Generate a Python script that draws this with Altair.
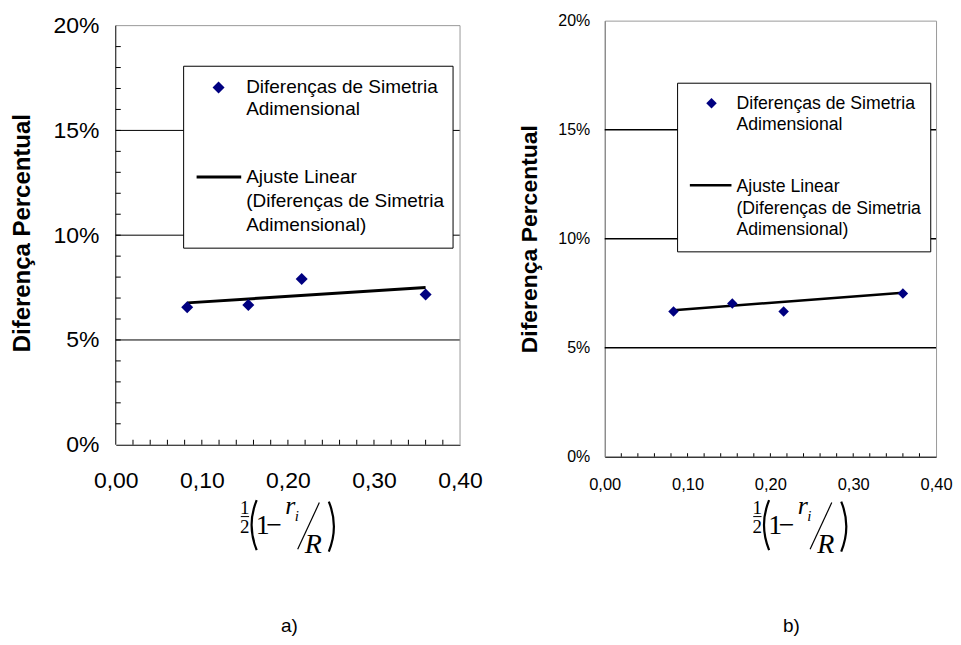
import altair as alt
import pandas as pd

SANS = "Liberation Sans, Arial, sans-serif"
SERIF = "Liberation Serif, Times New Roman, serif"

# ---------------- data ----------------
x_vals = [0.083, 0.154, 0.216, 0.360]
diff_a = [0.0656, 0.0667, 0.0791, 0.0717]
diff_b = [0.0666, 0.0703, 0.0666, 0.0749]
fit_x = [0.083, 0.360]
fit_a = [0.0677, 0.0750]
fit_b = [0.0672, 0.0752]

y_ticks = [0.0, 0.05, 0.10, 0.15, 0.20]
y_grid = [0.05, 0.10, 0.15]
y_minor = [0.01, 0.02, 0.03, 0.04, 0.05, 0.06, 0.07, 0.08, 0.09, 0.10,
           0.11, 0.12, 0.13, 0.14, 0.15, 0.16, 0.17, 0.18, 0.19]
x_ticks = [0.0, 0.1, 0.2, 0.3, 0.4]
x_minor = [0.02, 0.04, 0.06, 0.08, 0.10, 0.12, 0.14, 0.16, 0.18, 0.20,
           0.22, 0.24, 0.26, 0.28, 0.30, 0.32, 0.34, 0.36, 0.38]
x_max = 0.4
y_max = 0.2

y_title = "Diferença Percentual"
legend_pts = ["Diferenças de Simetria", "Adimensional"]
legend_fit = ["Ajuste Linear", "(Diferenças de Simetria", "Adimensional)"]
panel_names = ["a)", "b)"]

ONE = pd.DataFrame({"k": [0]})
GRAY = "#9a9a9a"


def vtext(txt, x, y, size, font=SANS, style="normal", align="left", weight="normal"):
    return alt.Chart(ONE).mark_text(
        text=txt, align=align, baseline="alphabetic", fontSize=size, font=font,
        fontStyle=style, fontWeight=weight, color="black"
    ).encode(x=alt.value(x), y=alt.value(y))


def paren(cx, cy, left):
    # thin tall bracket drawn as a circular arc
    r = 67.5
    if left:
        t0, t1 = 4.325, 5.099
    else:
        t0, t1 = 1.184, 1.958
    return alt.Chart(ONE).mark_arc(radius=r, radius2=r - 2.2, theta=t0, theta2=t1,
                                   color="black").encode(x=alt.value(cx), y=alt.value(cy))


def formula(ox, oy):
    L = []
    L.append(vtext("1", ox + 4.3, oy + 14, 19, SERIF, align="center"))
    L.append(alt.Chart(ONE).mark_rule(color="black", strokeWidth=1).encode(
        x=alt.value(ox + 0.3), x2=alt.value(ox + 8.6), y=alt.value(oy + 17)))
    L.append(vtext("2", ox + 4.3, oy + 33.2, 19, SERIF, align="center"))
    L.append(paren(ox + 9 + 1.2 + 67.5, oy + 25.5, True))
    L.append(vtext("1", ox + 22.3, oy + 34.6, 28, SERIF, align="center"))
    L.append(vtext("\u2212", ox + 33.8, oy + 34.6, 28, SERIF, align="center"))
    L.append(vtext("r", ox + 50, oy + 14.7, 26, SERIF, style="italic", align="center"))
    L.append(vtext("i", ox + 56.5, oy + 21.3, 15, SERIF, style="italic", align="center"))
    L.append(alt.Chart(ONE).mark_rule(color="black", strokeWidth=1.2).encode(
        x=alt.value(ox + 57.3), y=alt.value(oy + 49.7),
        x2=alt.value(ox + 79), y2=alt.value(oy + 3)))
    L.append(vtext("R", ox + 73, oy + 53, 28, SERIF, style="italic", align="center"))
    L.append(paren(ox + 95.7 - 1.2 - 67.5, oy + 27, False))
    return L


def panel(c):
    W, H = c["W"], c["H"]
    xs = alt.Scale(domain=[0, x_max], nice=False, zero=False)
    ys = alt.Scale(domain=[0, c["ytop"]], nice=False, zero=False)
    xaxis = alt.Axis(values=x_ticks, labelExpr="replace(format(datum.value, '.2f'), '.', ',')",
                     labelFlush=False, labelOverlap=False, grid=False, ticks=False,
                     domainColor="black", domainWidth=1, labelFont=SANS,
                     labelFontSize=c["xlab"], labelPadding=c["xpad"], labelColor="black",
                     title=None)
    yaxis = alt.Axis(values=y_ticks, format=".0%", grid=False, ticks=False,
                     domain=c["ydomain"], domainColor=c["ydom"], domainWidth=1, labelFont=SANS,
                     labelFontSize=c["ylab"], labelPadding=c["ypad"], labelColor="black",
                     labelFlush=False, labelOverlap=False,
                     title=y_title, titleFont=SANS, titleFontSize=c["tfs"],
                     titleFontWeight="bold", titlePadding=c["tpad"], titleColor="black")

    X = lambda f: alt.X(f, scale=xs, axis=xaxis)
    Y = lambda f: alt.Y(f, scale=ys, axis=yaxis)

    pts = alt.Chart(pd.DataFrame({"x": x_vals, "y": c["pts"]})).mark_point(
        shape="diamond", filled=True, size=c["ps"], color="#000080", opacity=1).encode(
        x=X("x:Q"), y=Y("y:Q"))
    grid = alt.Chart(pd.DataFrame({"y": y_grid})).mark_rule(
        color="black", strokeWidth=c["gw"]).encode(y=Y("y:Q"))
    layers = [grid]
    if not c["ydomain"]:
        # frame drawn on the data scale: top and right in gray, left axis line in black
        layers.append(alt.Chart(pd.DataFrame({"y": [y_max]})).mark_rule(
            color=GRAY, strokeWidth=1).encode(y=Y("y:Q")))
        layers.append(alt.Chart(pd.DataFrame({"x": [x_max], "y": [0.0], "y2": [y_max]})).mark_rule(
            color=GRAY, strokeWidth=1).encode(x=X("x:Q"), y=Y("y:Q"), y2="y2:Q"))
        layers.append(alt.Chart(pd.DataFrame({"x": [0.0], "y": [0.0], "y2": [y_max]})).mark_rule(
            color="black", strokeWidth=1).encode(x=X("x:Q"), y=Y("y:Q"), y2="y2:Q"))
    if c["yminor"]:
        layers.append(alt.Chart(pd.DataFrame({"y": y_minor})).mark_rule(
            color="black", strokeWidth=1).encode(
            y=Y("y:Q"), x=alt.value(0), x2=alt.value(c["tick"])))
    layers.append(alt.Chart(pd.DataFrame({"x": x_minor})).mark_rule(
        color="black", strokeWidth=1).encode(
        x=X("x:Q"), y=alt.value(H), y2=alt.value(H - c["tick"])))

    fit = alt.Chart(pd.DataFrame({"x": fit_x, "y": c["fit"]})).mark_line(
        color="black", strokeWidth=c["lw"]).encode(x=X("x:Q"), y=Y("y:Q"))
    layers += [fit, pts]

    # legend box
    bx0, bx1, by0, by1 = c["box"]
    layers.append(alt.Chart(ONE).mark_rect(fill="white", stroke="black", strokeWidth=1).encode(
        x=alt.value(bx0), x2=alt.value(bx1), y=alt.value(by0), y2=alt.value(by1)))
    dx, dy = c["dia"]
    layers.append(alt.Chart(ONE).mark_point(shape="diamond", filled=True, size=c["ps"],
                                            color="#000080", opacity=1).encode(
        x=alt.value(dx), y=alt.value(dy)))
    sx0, sx1, sy = c["seg"]
    layers.append(alt.Chart(ONE).mark_rule(color="black", strokeWidth=c["lw"]).encode(
        x=alt.value(sx0), x2=alt.value(sx1), y=alt.value(sy)))
    tx = c["tx"]
    for i, t in enumerate(legend_pts):
        layers.append(vtext(t, tx, c["t1"] + i * c["lh"], c["lfs"]))
    for i, t in enumerate(legend_fit):
        layers.append(vtext(t, tx, c["t2"] + i * c["lh2"], c["lfs"]))

    fx, fy = c["form"]
    layers += formula(fx, fy)
    nx, ny = c["name"]
    layers.append(alt.Chart(ONE).mark_text(text=c["label"], align="center", baseline="middle",
                                           fontSize=19, font=SANS, color="black").encode(
        x=alt.value(nx), y=alt.value(ny)))
    ch = alt.layer(*layers).properties(width=W, height=H)
    if not c["ydomain"]:
        ch = ch.properties(view=alt.ViewBackground(strokeOpacity=0))
    return ch


# panel a: 5 px of empty room above 20 % so that panel b can sit higher
cfg_a = dict(W=345, H=425, ytop=y_max * 425 / 420, ydomain=False,
             xlab=23, xpad=25, ylab=23, ypad=17, tfs=24, tpad=18,
             ydom="black", gw=1, yminor=True, tick=5, fit=fit_a, pts=diff_a, lw=3, ps=144,
             box=(68, 338, 45.7, 228), dia=(103, 67), seg=(81, 125.7, 156.7),
             tx=130.7, t1=72.3, lh=22.7, t2=162.7, lh2=24, lfs=19,
             form=(125, 480), name=(174, 607), label=panel_names[0])
cfg_b = dict(W=332, H=437, ytop=y_max, ydomain=True,
             xlab=16.5, xpad=20, ylab=16, ypad=15, tfs=23, tpad=16,
             ydom="#808080", gw=1.5, yminor=False, tick=3.5, fit=fit_b, pts=diff_b, lw=2.5, ps=110,
             box=(73, 326.7, 62.7, 231.7), dia=(107, 82.7), seg=(85.3, 127, 165),
             tx=132, t1=88.3, lh=21.7, t2=171.7, lh2=21.7, lfs=17.7,
             form=(148.5, 480), name=(187, 607), label=panel_names[1])

chart = alt.hconcat(panel(cfg_a), panel(cfg_b), spacing=35).properties(
    padding={"left": 2, "top": 3, "right": 0, "bottom": 0}
).configure_view(stroke=GRAY, strokeWidth=1)

chart.save("out.html", embed_options={"renderer": "svg", "actions": False})
